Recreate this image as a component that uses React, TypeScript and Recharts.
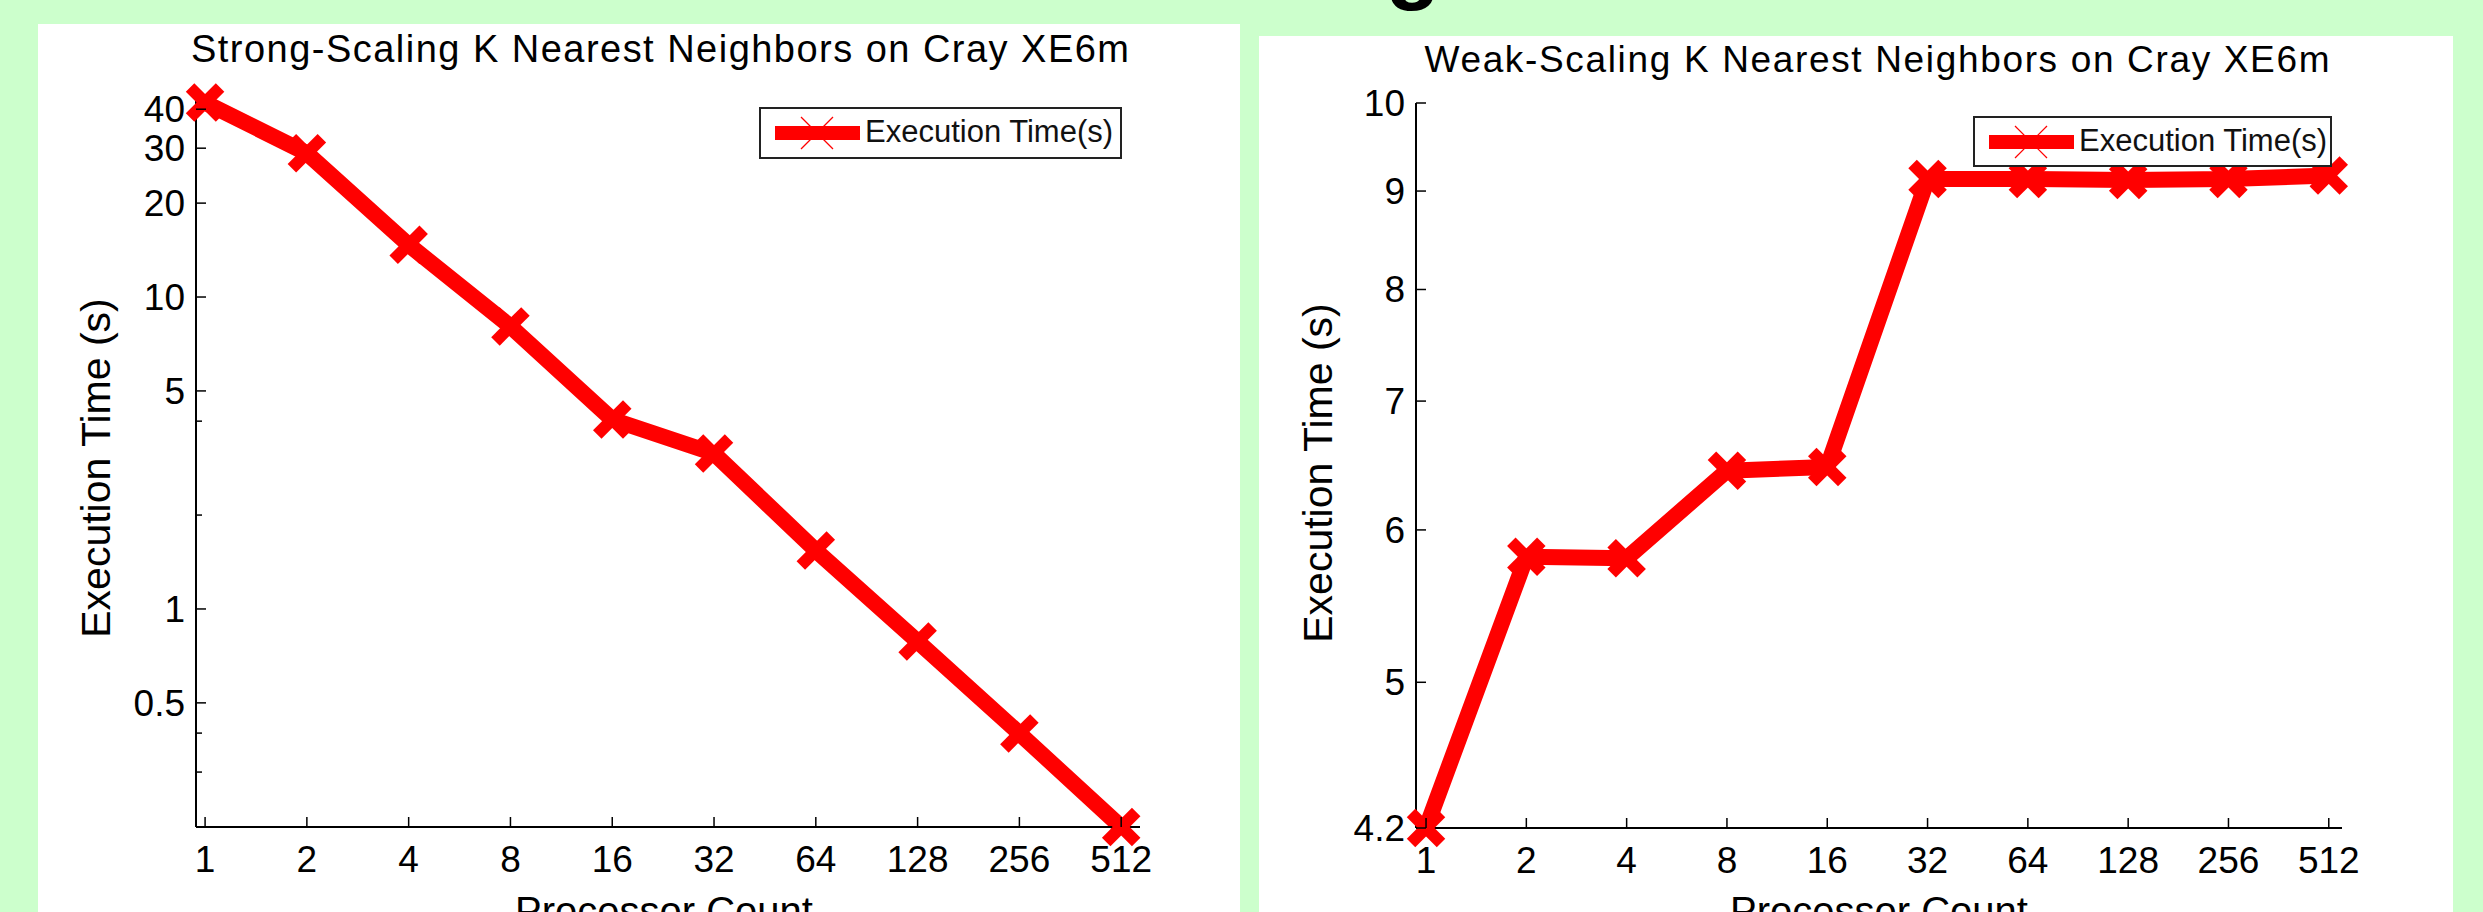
import { LineChart, Line, XAxis, YAxis, Legend } from 'recharts';

const FONT = '"Liberation Sans", Arial, Helvetica, sans-serif';

// processor counts on the x axis (log2 spaced)
const processorCounts = [1, 2, 4, 8, 16, 32, 64, 128, 256, 512];
// execution time (s), strong scaling
const strongTimes = [42, 28.9, 14.7, 8.05, 4.05, 3.15, 1.54, 0.786, 0.399, 0.2];
// execution time (s), weak scaling
const weakTimes = [4.2, 5.81, 5.8, 6.44, 6.47, 9.13, 9.13, 9.12, 9.13, 9.17];

const strongYTicks = [0.3, 0.4, 0.5, 1, 2, 4, 5, 10, 20, 30, 40];
const strongYLabels = [0.5, 1, 5, 10, 20, 30, 40];
const weakYTicks = [4.2, 5, 6, 7, 8, 9, 10];

const seriesName = 'Execution Time(s)';
const strongTitle = 'Strong-Scaling K Nearest Neighbors on Cray XE6m';
const weakTitle = 'Weak-Scaling K Nearest Neighbors on Cray XE6m';
const yTitle = 'Execution Time (s)';
const xTitle = 'Processor Count';

const strongData = processorCounts.map((p, i) => ({ p, t: strongTimes[i] }));
const weakData = processorCounts.map((p, i) => ({ p, t: weakTimes[i] }));

function XTick({ x, y, payload }: any) {
  return (
    <g>
      <line x1={x} x2={x} y1={y} y2={y - 10} stroke="#000" strokeWidth={1.5} />
      <text x={x} y={y + 45} textAnchor="middle" fontSize={37} fontFamily={FONT} fill="#000">
        {payload.value}
      </text>
    </g>
  );
}

const makeYTick = (labels: number[] | null) => (props: any) => {
  const { x, y, payload } = props;
  const major = !labels || labels.includes(payload.value);
  return (
    <g key={`yt-${payload.value}`}>
      <line x1={x} x2={x + (major ? 10 : 6)} y1={y} y2={y} stroke="#000" strokeWidth={1.5} />
      {major && (
        <text x={x - 11} y={y + 13} textAnchor="end" fontSize={37} fontFamily={FONT} fill="#000">
          {payload.value}
        </text>
      )}
    </g>
  );
};

function XMark(props: any) {
  const { cx, cy, index } = props;
  const h = 15;
  return (
    <g key={`m-${index}`}>
      <line x1={cx - h} y1={cy - h} x2={cx + h} y2={cy + h} stroke="#ff0000" strokeWidth={12} />
      <line x1={cx - h} y1={cy + h} x2={cx + h} y2={cy - h} stroke="#ff0000" strokeWidth={12} />
    </g>
  );
}

function LegendBox() {
  return (
    <div
      style={{
        width: '100%',
        height: '100%',
        boxSizing: 'border-box',
        border: '2px solid #222',
        background: '#fff',
        position: 'relative',
        fontFamily: FONT,
      }}
    >
      <svg width={100} height={48} style={{ position: 'absolute', left: 0, top: 0 }}>
        <line x1={14} x2={99} y1={24} y2={24} stroke="#ff0000" strokeWidth={14} />
        <line x1={40} x2={72} y1={8} y2={40} stroke="#ff0000" strokeWidth={1.2} />
        <line x1={40} x2={72} y1={40} y2={8} stroke="#ff0000" strokeWidth={1.2} />
      </svg>
      <span
        style={{
          position: 'absolute',
          left: 104,
          top: 5,
          fontSize: 31,
          lineHeight: '36px',
          color: '#111',
          whiteSpace: 'nowrap',
        }}
      >
        {seriesName}
      </span>
    </div>
  );
}

interface PanelProps {
  data: { p: number; t: number }[];
  width: number;
  height: number;
  margin: { top: number; right: number; bottom: number; left: number };
  xDomain: [number, number];
  yDomain: [number, number];
  yTicks: number[];
  yLabels: number[] | null;
  legendPos: { left: number; top: number; width: number; height: number };
}

function ScalingChart({ data, width, height, margin, xDomain, yDomain, yTicks, yLabels, legendPos }: PanelProps) {
  return (
    <LineChart width={width} height={height} data={data} margin={margin}>
      <XAxis
        dataKey="p"
        type="number"
        scale="log"
        domain={xDomain}
        ticks={processorCounts}
        interval={0}
        height={60}
        tickSize={0}
        tickMargin={0}
        tickLine={false}
        axisLine={{ stroke: '#000', strokeWidth: 2 }}
        tick={(p: any) => <XTick {...p} key={`xt-${p.payload.value}`} />}
      />
      <YAxis
        type="number"
        scale="log"
        domain={yDomain}
        ticks={yTicks}
        interval={0}
        width={60}
        tickSize={0}
        tickMargin={0}
        tickLine={false}
        axisLine={{ stroke: '#000', strokeWidth: 2 }}
        tick={makeYTick(yLabels)}
      />
      <Legend
        layout="vertical"
        verticalAlign="middle"
        align="center"
        wrapperStyle={legendPos}
        content={() => <LegendBox />}
      />
      <Line
        dataKey="t"
        name={seriesName}
        stroke="#ff0000"
        strokeWidth={16}
        strokeLinejoin="round"
        dot={(p: any) => <XMark {...p} key={`d-${p.index}`} />}
        activeDot={false}
        isAnimationActive={false}
      />
    </LineChart>
  );
}

export default function App() {
  return (
    <div
      style={{
        position: 'absolute',
        left: 0,
        top: 0,
        width: 2483,
        height: 912,
        background: '#ccffcc',
        overflow: 'hidden',
      }}
    >
      <div style={{ position: 'absolute', left: 38, top: 24, width: 1202, height: 888, background: '#fff', overflow: 'hidden' }}>
        <ScalingChart
          data={strongData}
          width={1202}
          height={888}
          margin={{ top: 77, right: 100, bottom: 25, left: 98 }}
          xDomain={[0.94, 582]}
          yDomain={[0.2, 42.5]}
          yTicks={strongYTicks}
          yLabels={strongYLabels}
          legendPos={{ left: 721, top: 83, width: 363, height: 52 }}
        />
      </div>
      <div style={{ position: 'absolute', left: 1259, top: 36, width: 1194, height: 876, background: '#fff', overflow: 'hidden' }}>
        <ScalingChart
          data={weakData}
          width={1194}
          height={876}
          margin={{ top: 67, right: 111, bottom: 24, left: 97 }}
          xDomain={[0.933, 561]}
          yDomain={[4.2, 10]}
          yTicks={weakYTicks}
          yLabels={null}
          legendPos={{ left: 714, top: 80, width: 359, height: 51 }}
        />
      </div>
      <svg
        width={2483}
        height={912}
        style={{ position: 'absolute', left: 0, top: 0, pointerEvents: 'none' }}
        fontFamily={FONT}
      >
        <text x={1413} y={-8} fontSize={90} fontWeight="bold" textAnchor="middle" fill="#000">g</text>
        <text x={660} y={62} fontSize={38} textAnchor="middle" textLength={938} lengthAdjust="spacing" fill="#000">{strongTitle}</text>
        <text x={1877} y={72} fontSize={37} textAnchor="middle" textLength={905} lengthAdjust="spacing" fill="#000">{weakTitle}</text>
        <text transform="translate(110,468) rotate(-90)" fontSize={41} textAnchor="middle" fill="#000">{yTitle}</text>
        <text transform="translate(1332,473) rotate(-90)" fontSize={41} textAnchor="middle" fill="#000">{yTitle}</text>
        <text x={664} y={925} fontSize={40} textAnchor="middle" fill="#000">{xTitle}</text>
        <text x={1879} y={925} fontSize={40} textAnchor="middle" fill="#000">{xTitle}</text>
      </svg>
    </div>
  );
}
